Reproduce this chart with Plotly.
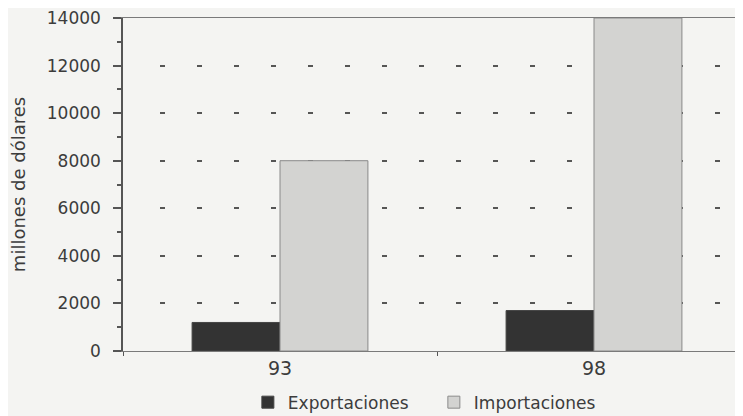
import plotly.graph_objects as go

categories = ["93", "98"]
exportaciones = [1200, 1700]
importaciones = [8000, 14000]
y_ticks = [0, 2000, 4000, 6000, 8000, 10000, 12000, 14000]

BG = "#f4f4f2"
TXT = "#3c3c3c"
FONT = "DejaVu Sans, Liberation Sans, sans-serif"

dash = "0px,37px," + ",".join(["5px,32px"] * 18)

fig = go.Figure()
fig.add_trace(go.Bar(x=categories, y=exportaciones, name="Exportaciones",
                     marker=dict(color="#333333", line=dict(color="#444444", width=1))))
fig.add_trace(go.Bar(x=categories, y=importaciones, name="Importaciones",
                     marker=dict(color="#d3d3d1", line=dict(color="#8a8a8a", width=1))))

xr = [-0.5, 1.5]
yr = [0, 14000]

fig.update_layout(
    width=743, height=416,
    margin=dict(l=115, r=0, t=10, b=73, autoexpand=False),
    paper_bgcolor=BG, plot_bgcolor=BG,
    font=dict(family=FONT, color=TXT, size=17),
    barmode="group", bargap=0.44, bargroupgap=0,
    showlegend=True,
    legend=dict(orientation="h", x=0.495, xanchor="center", y=-0.155, yanchor="middle",
                font=dict(size=17, color=TXT), bgcolor="rgba(0,0,0,0)",
                traceorder="normal", itemwidth=30, entrywidth=141),
    xaxis=dict(type="category", range=xr, tickson="boundaries", ticks="outside",
               ticklen=4, tickcolor="#555555", showline=True, linecolor="#7a7a7a",
               linewidth=1, mirror=True, showgrid=False, tickfont=dict(size=19),
               zeroline=False, automargin=False),
    xaxis2=dict(overlaying="x", range=xr, tickvals=[0.5], ticks="inside", ticklen=9,
                tickwidth=1.5, tickcolor="#555555", showticklabels=False,
                showgrid=False, showline=False, zeroline=False, automargin=False),
    xaxis3=dict(overlaying="x", side="top", range=xr, showticklabels=False, ticks="",
                showgrid=False, showline=True, linecolor="#7a7a7a", linewidth=1,
                zeroline=False, automargin=False),
    yaxis=dict(range=yr, tickvals=y_ticks, tickformat="d", ticks="outside", ticklen=8,
               tickwidth=1.5, tickcolor="#555555", showline=True, linecolor="#555555",
               linewidth=1.5, showgrid=True, gridcolor="#555555", gridwidth=2,
               griddash=dash, zeroline=False, ticklabelstandoff=9, automargin=False,
               ticklabeloverflow="allow", tickfont=dict(size=17),
               minor=dict(dtick=1000, ticks="outside", ticklen=4, tickcolor="#555555",
                          showgrid=False),
               title=dict(text="millones de dólares", font=dict(size=18), standoff=18)),
    yaxis2=dict(overlaying="y", range=yr, tickvals=y_ticks, ticks="inside", ticklen=5,
                tickwidth=1.5, tickcolor="#555555", showticklabels=False, showgrid=False,
                showline=False, zeroline=False, automargin=False,
                minor=dict(dtick=1000, ticks="inside", ticklen=5, tickcolor="#555555")),
)

fig.write_html("out.html")
